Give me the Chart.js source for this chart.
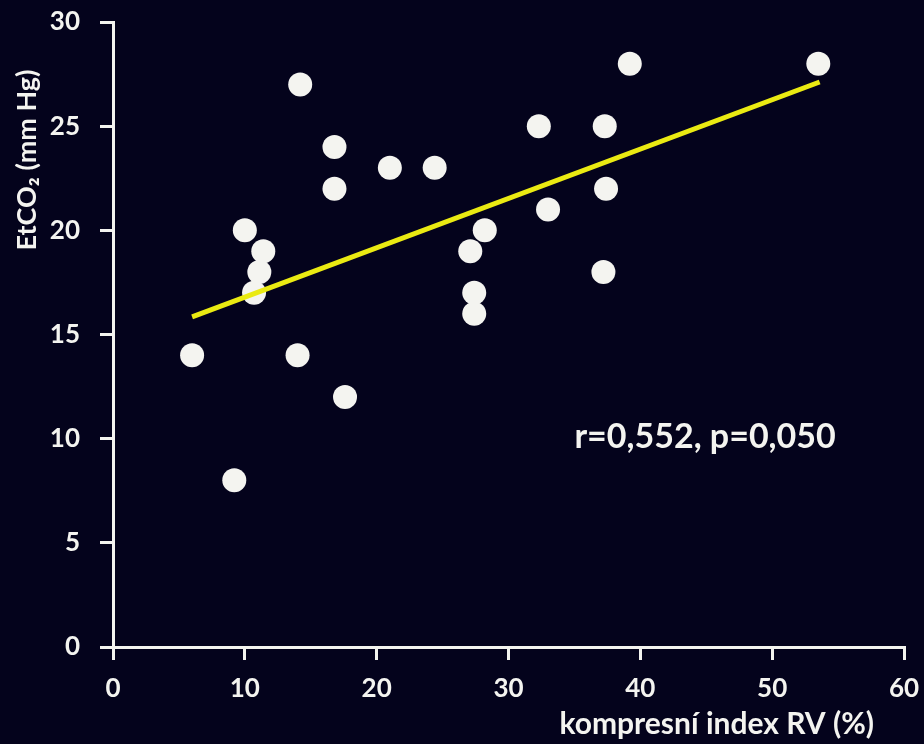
<!DOCTYPE html>
<html>
<head>
<meta charset="utf-8">
<script src="https://cdn.jsdelivr.net/npm/chart.js@4"></script>
<style>
	html, body { margin: 0; padding: 0; background: #04031c; }
	#wrap { width: 924px; height: 744px; }
</style>
</head>
<body>
<div id="wrap"><canvas id="etco2Chart" width="924" height="744"></canvas></div>
<script>
// compresni index RV (%) vs EtCO2 (mm Hg)
const indexRV = [6, 9.2, 10, 10.7, 11.1, 11.4, 14, 14.2, 16.8, 16.8, 17.6, 21, 24.4, 27.1, 27.4, 27.4, 28.2, 32.3, 33, 37.3, 37.4, 37.2, 39.2, 53.5];
const etco2 = [14, 8, 20, 17, 18, 19, 14, 27, 24, 22, 12, 23, 23, 19, 17, 16, 20, 25, 21, 25, 22, 18, 28, 28];
const trendX = [6, 53.6];
const trendY = [15.85, 27.12];
const xTicks = [0, 10, 20, 30, 40, 50, 60];
const yTicks = [0, 5, 10, 15, 20, 25, 30];
const statsText = 'r=0,552, p=0,050';
const statsAt = [35.0, 10.1];
const xTitle = 'kompresní index RV (%)';
const yTitle = 'EtCO₂ (mm Hg)';

const FONT = 'Lato, "Open Sans", sans-serif';
const WHITE = '#f4f4f0';

const labelsPlugin = {
	id: 'labels',
	afterDraw(chart) {
		const ctx = chart.ctx;
		const x = chart.scales.x;
		const y = chart.scales.y;
		ctx.save();
		ctx.fillStyle = WHITE;

		ctx.font = 'bold 34px ' + FONT;
		ctx.textAlign = 'left';
		ctx.textBaseline = 'middle';
		ctx.fillText(statsText, x.getPixelForValue(statsAt[0]), y.getPixelForValue(statsAt[1]));

		ctx.font = 'bold 30px ' + FONT;
		ctx.textAlign = 'right';
		ctx.fillText(xTitle, 874, 724);

		ctx.font = 'bold 27px ' + FONT;
		ctx.translate(27, 160);
		ctx.rotate(-Math.PI / 2);
		ctx.textAlign = 'center';
		ctx.fillText(yTitle, 0, 0);
		ctx.restore();
	}
};

const ctx = document.getElementById('etco2Chart').getContext('2d');

new Chart(ctx, {
	type: 'scatter',
	data: {
		datasets: [{
			type: 'line',
			data: trendX.map((v, i) => ({ x: v, y: trendY[i] })),
			borderColor: '#eaea12',
			borderWidth: 5,
			pointRadius: 0,
			fill: false,
			order: 1
		}, {
			data: indexRV.map((v, i) => ({ x: v, y: etco2[i] })),
			backgroundColor: WHITE,
			borderColor: '#ffffff',
			borderWidth: 0,
			pointRadius: 12,
			order: 2
		}]
	},
	options: {
		responsive: false,
		animation: false,
		clip: false,
		layout: { padding: { top: 22, right: 20, left: 0, bottom: 0 } },
		plugins: {
			legend: { display: false },
			tooltip: { enabled: false }
		},
		scales: {
			x: {
				type: 'linear',
				min: 0,
				max: 60,
				afterBuildTicks: (s) => { s.ticks = xTicks.map(v => ({ value: v })); },
				afterFit: (s) => { s.height = 97; s.paddingLeft = 0; s.paddingRight = 0; },
				border: { color: WHITE, width: 3 },
				grid: { drawOnChartArea: false, drawTicks: true, tickLength: 13, color: WHITE, lineWidth: 3 },
				ticks: { color: WHITE, padding: 13, font: { family: FONT, size: 26, weight: 'bold' } }
			},
			y: {
				type: 'linear',
				min: 0,
				max: 30,
				afterBuildTicks: (s) => { s.ticks = yTicks.map(v => ({ value: v })); },
				afterFit: (s) => { s.width = 113; s.paddingTop = 0; s.paddingBottom = 0; },
				border: { color: WHITE, width: 3 },
				grid: { drawOnChartArea: false, drawTicks: true, tickLength: 13, color: WHITE, lineWidth: 3 },
				ticks: { color: WHITE, padding: 20, font: { family: FONT, size: 26, weight: 'bold' } }
			}
		}
	},
	plugins: [labelsPlugin]
});
</script>
</body>
</html>
